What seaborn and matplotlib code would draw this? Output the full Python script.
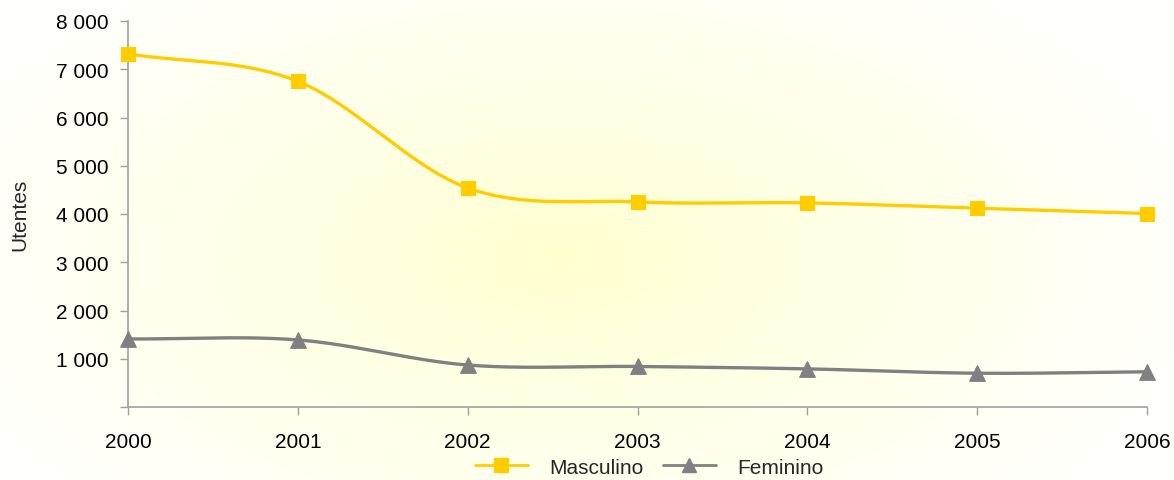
import numpy as np
import pandas as pd
import matplotlib
matplotlib.use("Agg")
import matplotlib.pyplot as plt
import seaborn as sns
from matplotlib.lines import Line2D

years = [2000, 2001, 2002, 2003, 2004, 2005, 2006]
masculino = [7320, 6750, 4540, 4250, 4230, 4120, 4010]
feminino = [1410, 1390, 870, 840, 790, 700, 730]
yticks = [0, 1000, 2000, 3000, 4000, 5000, 6000, 7000, 8000]
ytick_labels = ["", "1 000", "2 000", "3 000", "4 000", "5 000", "6 000", "7 000", "8 000"]

sns.set_theme(style="white")
plt.rcParams['font.family'] = ['Liberation Sans', 'DejaVu Sans']

YEL = "#FFCC00"
GRY = "#808080"
FS = 15


def smooth(xs, ys, n=40):
    xs = np.asarray(xs, float); ys = np.asarray(ys, float)
    px = np.concatenate([[2 * xs[0] - xs[1]], xs, [2 * xs[-1] - xs[-2]]])
    py = np.concatenate([[2 * ys[0] - ys[1]], ys, [2 * ys[-1] - ys[-2]]])
    ox, oy = [], []
    t = np.linspace(0, 1, n)
    for i in range(1, len(px) - 2):
        p0, p1, p2, p3 = [np.array([px[j], py[j]]) for j in (i - 1, i, i + 1, i + 2)]
        c1 = p1 + (p2 - p0) / 6.0
        c2 = p2 - (p3 - p1) / 6.0
        b = ((1 - t) ** 3)[:, None] * p1 + (3 * (1 - t) ** 2 * t)[:, None] * c1 + \
            (3 * (1 - t) * t ** 2)[:, None] * c2 + (t ** 3)[:, None] * p2
        ox.extend(b[:, 0]); oy.extend(b[:, 1])
    return np.array(ox), np.array(oy)


fig = plt.figure(figsize=(11.74, 4.81), dpi=100)
fig.patch.set_facecolor("white")

# radial gradient background
bg = fig.add_axes([0, 0, 1, 1], zorder=-10)
H, W = 481, 1174
yy, xx = np.mgrid[0:H, 0:W]
cx, cy = 560, 260
r = np.sqrt(((xx - cx) / 640.0) ** 2 + ((yy - cy) / 340.0) ** 2)
r = np.clip(r, 0, 1)
center = np.array([1.0, 1.0, 0.80])
edge = np.array([1.0, 1.0, 0.985])
w = (r ** 0.75)[..., None]
img = center * (1 - w) + edge * w
bg.imshow(img, aspect="auto", extent=[0, 1, 0, 1], origin="upper")
bg.axis("off")

ax = fig.add_axes([128 / 1174, 73 / 481, (1147 - 128) / 1174, (408 - 22) / 481])
ax.patch.set_alpha(0)

mx, my = smooth(years, masculino)
fx, fy = smooth(years, feminino)
df_line = pd.DataFrame({
    "x": np.concatenate([mx, fx]),
    "y": np.concatenate([my, fy]),
    "s": ["Masculino"] * len(mx) + ["Feminino"] * len(fx),
})
sns.lineplot(data=df_line, x="x", y="y", hue="s", palette={"Masculino": YEL, "Feminino": GRY},
             sort=False, estimator=None, lw=2.4, legend=False, ax=ax)
sns.scatterplot(x=years, y=masculino, marker="s", s=115, color=YEL, edgecolor=YEL, ax=ax,
                zorder=5, legend=False)
sns.scatterplot(x=years, y=feminino, marker="^", s=125, color=GRY, edgecolor=GRY, ax=ax,
                zorder=5, legend=False)
for c in ax.collections:
    c.set_clip_on(False)

ax.set_xlim(2000, 2006)
ax.set_ylim(0, 8000)
ax.set_xticks(years)
ax.set_xticklabels([str(y) for y in years], fontsize=FS)
ax.set_yticks(yticks)
ax.set_yticklabels(ytick_labels, fontsize=FS)
ax.set_xlabel("")
ax.set_ylabel("Utentes", fontsize=FS, labelpad=19)
for s in ["top", "right"]:
    ax.spines[s].set_visible(False)
for s in ["left", "bottom"]:
    ax.spines[s].set_color("#A0A0A0")
    ax.spines[s].set_linewidth(1.2)
ax.tick_params(axis="both", which="major", length=6, width=1, color="#A0A0A0",
               direction="out", left=True, bottom=True, labelcolor="black")
ax.tick_params(axis="x", pad=12)
ax.tick_params(axis="y", pad=8)

handles = [
    Line2D([0], [0], color=YEL, lw=2, marker="s", markersize=10, markeredgecolor=YEL),
    Line2D([0], [0], color=GRY, lw=2, marker="^", markersize=10, markeredgecolor=GRY),
]
fig.legend(handles, ["Masculino", "Feminino"], loc="center", bbox_to_anchor=(0.553, 0.027),
           ncol=2, frameon=False, fontsize=FS, handlelength=2.55, handletextpad=1.05,
           columnspacing=0.9, borderpad=0, borderaxespad=0)

fig.savefig("out.png", dpi=100)
